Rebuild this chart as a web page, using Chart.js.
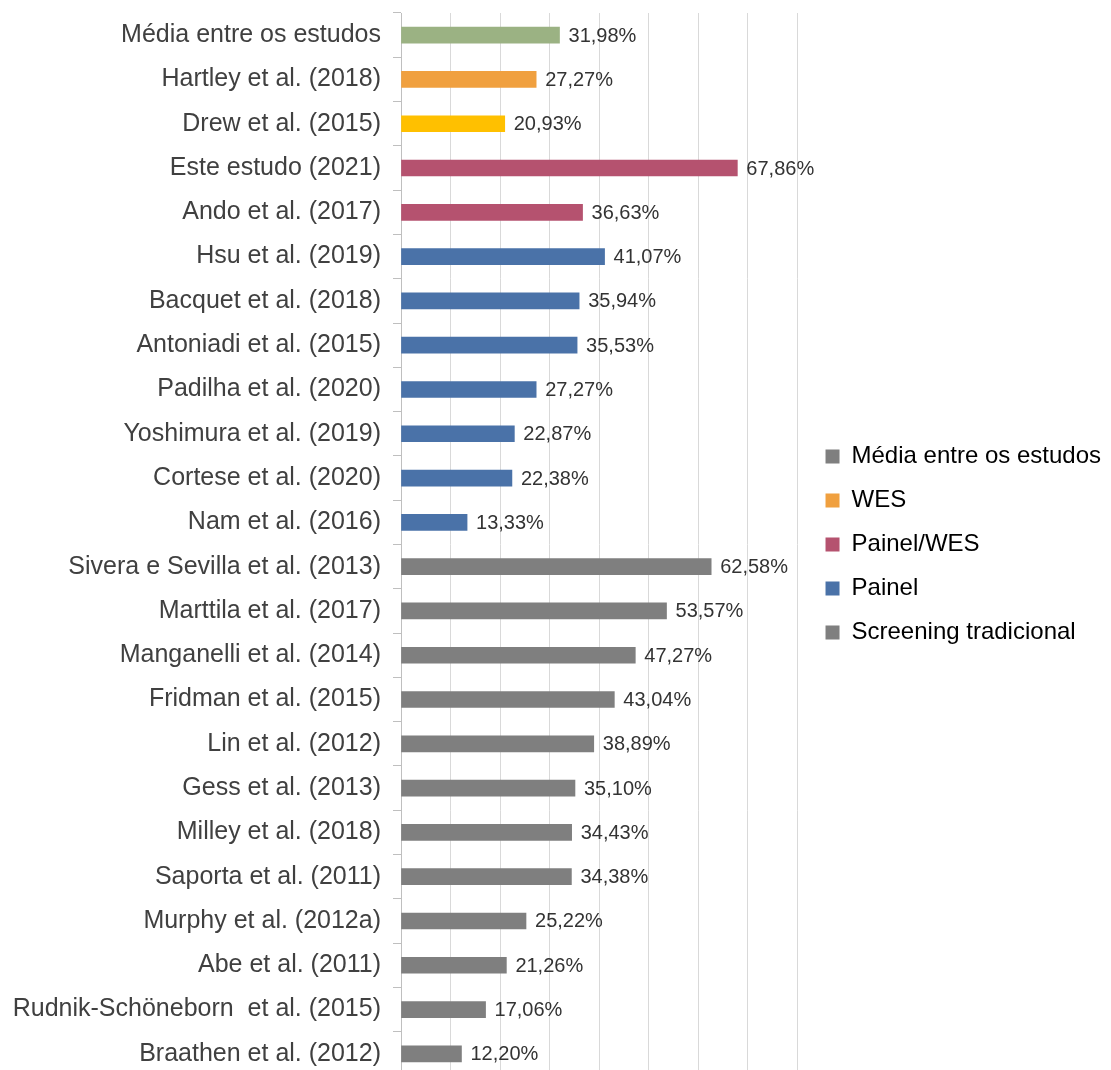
<!DOCTYPE html>
<html lang="pt">
<head>
  <meta charset="UTF-8">
  <title>Taxa diagnóstica por estudo</title>
  <script src="https://cdn.jsdelivr.net/npm/chart.js"></script>
  <style>
    html, body {
      margin: 0;
      padding: 0;
      background: #fff;
      overflow: hidden;
    }
    .wrap {
      width: 1111px;
      height: 1076px;
      position: relative;
    }
  </style>
</head>
<body>
  <div class="wrap">
    <canvas id="grafico"></canvas>
  </div>

  <script>
    // Estudos (de cima para baixo) e taxa diagnóstica (%)
    const estudos = [
      "Média entre os estudos",
      "Hartley et al. (2018)",
      "Drew et al. (2015)",
      "Este estudo (2021)",
      "Ando et al. (2017)",
      "Hsu et al. (2019)",
      "Bacquet et al. (2018)",
      "Antoniadi et al. (2015)",
      "Padilha et al. (2020)",
      "Yoshimura et al. (2019)",
      "Cortese et al. (2020)",
      "Nam et al. (2016)",
      "Sivera e Sevilla et al. (2013)",
      "Marttila et al. (2017)",
      "Manganelli et al. (2014)",
      "Fridman et al. (2015)",
      "Lin et al. (2012)",
      "Gess et al. (2013)",
      "Milley et al. (2018)",
      "Saporta et al. (2011)",
      "Murphy et al. (2012a)",
      "Abe et al. (2011)",
      "Rudnik-Schöneborn  et al. (2015)",
      "Braathen et al. (2012)"
    ];

    const taxas = [
      31.98, 27.27, 20.93, 67.86, 36.63, 41.07, 35.94, 35.53, 27.27, 22.87,
      22.38, 13.33, 62.58, 53.57, 47.27, 43.04, 38.89, 35.10, 34.43, 34.38,
      25.22, 21.26, 17.06, 12.20
    ];

    // cor de cada barra
    const coresBarras = [
      "#9bb283", "#f0a03f", "#ffc000", "#b5526f", "#b5526f",
      "#4a72a8", "#4a72a8", "#4a72a8", "#4a72a8", "#4a72a8", "#4a72a8", "#4a72a8",
      "#7f7f7f", "#7f7f7f", "#7f7f7f", "#7f7f7f", "#7f7f7f", "#7f7f7f",
      "#7f7f7f", "#7f7f7f", "#7f7f7f", "#7f7f7f", "#7f7f7f", "#7f7f7f"
    ];

    // legenda
    const grupos = ["Média entre os estudos", "WES", "Painel/WES", "Painel", "Screening tradicional"];
    const coresGrupos = ["#7f7f7f", "#f0a03f", "#b5526f", "#4a72a8", "#7f7f7f"];

    const eixoX = { min: 0, max: 80, passo: 10 };

    const fonte = "Arial, 'Liberation Sans', sans-serif";

    // rótulos de valor no fim das barras
    const rotulosValor = {
      id: "rotulosValor",
      afterDatasetsDraw(chart) {
        const ctx = chart.ctx;
        const meta = chart.getDatasetMeta(0);
        ctx.save();
        ctx.font = "20px " + fonte;
        ctx.fillStyle = "#333333";
        ctx.textAlign = "left";
        ctx.textBaseline = "middle";
        meta.data.forEach((bar, i) => {
          const txt = taxas[i].toFixed(2).replace(".", ",") + "%";
          ctx.fillText(txt, bar.x + 9, bar.y + 1);
        });
        ctx.restore();
      }
    };

    // empurra a legenda um pouco para a direita
    const moveLegenda = {
      id: "moveLegenda",
      afterLayout(chart) {
        chart.legend.left += 8;
        chart.legend.right += 8;
      }
    };

    const ctx = document.getElementById("grafico").getContext("2d");
    new Chart(ctx, {
      type: "bar",
      data: {
        labels: estudos,
        datasets: [{
          data: taxas,
          backgroundColor: coresBarras,
          barThickness: 16
        }]
      },
      options: {
        indexAxis: "y",
        responsive: true,
        maintainAspectRatio: false,
        animation: false,
        layout: {
          padding: { top: 13, right: 8, bottom: 0, left: 0 }
        },
        scales: {
          x: {
            min: eixoX.min,
            max: eixoX.max,
            ticks: { display: false, stepSize: eixoX.passo },
            grid: { color: "#d9d9d9", drawTicks: false, lineWidth: 1 },
            border: { display: false },
            afterFit(scale) {
              scale.height = 0;
              scale.paddingLeft = 0;
              scale.paddingRight = 0;
            }
          },
          y: {
            ticks: {
              color: "#404040",
              padding: 12,
              font: { family: fonte, size: 25 }
            },
            grid: {
              offset: true,
              drawOnChartArea: false,
              tickLength: 8,
              color: "#bfbfbf"
            },
            border: { display: true, color: "#bfbfbf" },
            afterFit(scale) {
              scale.width = 401;
              scale.paddingTop = 0;
              scale.paddingBottom = 0;
            }
          }
        },
        plugins: {
          tooltip: { enabled: false },
          legend: {
            position: "right",
            align: "center",
            maxWidth: 314,
            labels: {
              color: "#333333",
              boxWidth: 14,
              boxHeight: 14,
              padding: 20,
              font: { family: fonte, size: 24 },
              generateLabels() {
                return grupos.map((g, i) => ({
                  text: g,
                  fillStyle: coresGrupos[i],
                  strokeStyle: coresGrupos[i],
                  lineWidth: 0,
                  hidden: false,
                  index: i
                }));
              }
            }
          }
        }
      },
      plugins: [rotulosValor, moveLegenda]
    });
  </script>
</body>
</html>
